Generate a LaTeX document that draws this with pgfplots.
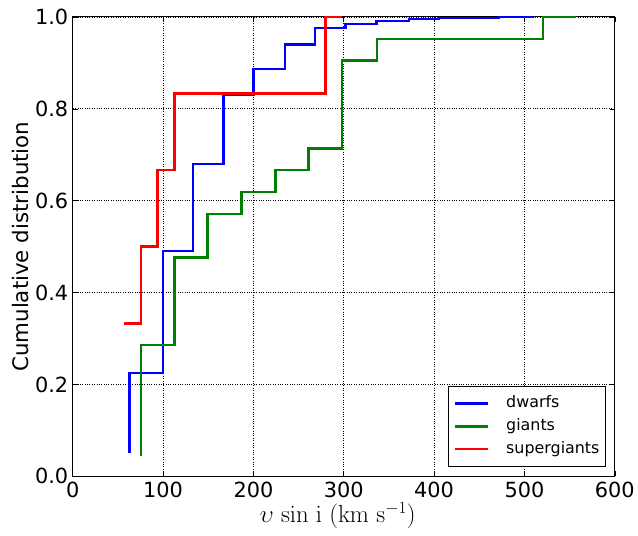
\documentclass[border=0pt]{standalone}
\usepackage[no-math]{fontspec}
\setmainfont{DejaVu Sans}
\usepackage{pgfplots}
\pgfplotsset{compat=1.18}
\definecolor{mplgreen}{rgb}{0,0.5,0}
\begin{document}
\begin{tikzpicture}
\begin{axis}[
  scale only axis, width=544bp, height=461bp,
  xmin=0, xmax=600, ymin=0, ymax=1,
  xtick={0,100,200,300,400,500,600},
  ytick={0,0.2,0.4,0.6,0.8,1.0},
  yticklabel style={xshift=-1bp},
  y tick label style={/pgf/number format/fixed, /pgf/number format/fixed zerofill, /pgf/number format/precision=1},
  /pgf/number format/assume math mode=true,
  tick label style={font=\fontsize{21}{21}\selectfont},
  xticklabel style={yshift=-2bp},
  grid=major, major grid style={black, dotted, line width=0.7pt},
  tick align=inside, tick pos=both, major tick length=5bp,
  tick style={black, line width=0.6pt},
  axis line style={black, line width=0.9pt},
  xlabel={$\upsilon\ \mathrm{sin\ i\ (km\ s^{-1})}$},
  ylabel={Cumulative distribution},
  xlabel style={font=\fontsize{23}{23}\selectfont, yshift=2bp, xshift=-6bp},
  ylabel style={font=\fontsize{21.5}{21.5}\selectfont, yshift=-1bp},
  legend style={at={(1,0)}, anchor=south east, xshift=-9bp, yshift=10bp,
    draw=black, line width=0.8pt, font=\fontsize{16}{16}\selectfont,
    row sep=7.5bp, column sep=17bp, inner xsep=6bp, inner ysep=9bp,
    nodes={inner xsep=0bp, inner ysep=0bp, text height=12bp, text depth=3.5bp}},
  legend cell align=left,
  legend image code/.code={\path (0bp,0bp) -- (33bp,0bp); \draw[#1, line width=2.5bp] (6bp,0bp) -- (33bp,0bp);},
]
\addplot[blue, line width=2.5bp] coordinates {
(63,0.05) (63,0.225) (100,0.225) (100,0.49) (133,0.49) (133,0.68)
(167,0.68) (167,0.83) (200,0.83) (200,0.887) (235,0.887) (235,0.94)
(268,0.94) (268,0.976) (302,0.976) (302,0.985) (336,0.985) (336,0.991)
(372,0.991) (372,0.995) (405,0.995) (405,0.998) (472,0.998) (472,1.0) (509,1.0)};
\addlegendentry{dwarfs}
\addplot[mplgreen, line width=2.5bp] coordinates {
(75.7,0.045) (75.7,0.286) (112.5,0.286) (112.5,0.476) (149,0.476) (149,0.571)
(187,0.571) (187,0.619) (224.6,0.619) (224.6,0.667) (261,0.667) (261,0.714)
(298,0.714) (298,0.905) (337,0.905) (337,0.952) (520.6,0.952) (520.6,1.0) (557,1.0)};
\addlegendentry{giants}
\addplot[red, line width=2.5bp] coordinates {
(56.6,0.333) (75.7,0.333) (75.7,0.5) (94,0.5) (94,0.667) (112.5,0.667)
(112.5,0.833) (280,0.833) (280,1.0) (298,1.0)};
\addlegendentry{supergiants}
\end{axis}
\path ([shift={(-73bp,-59bp)}]current axis.south west) rectangle ++(638bp,537bp);
\end{tikzpicture}
\end{document}
